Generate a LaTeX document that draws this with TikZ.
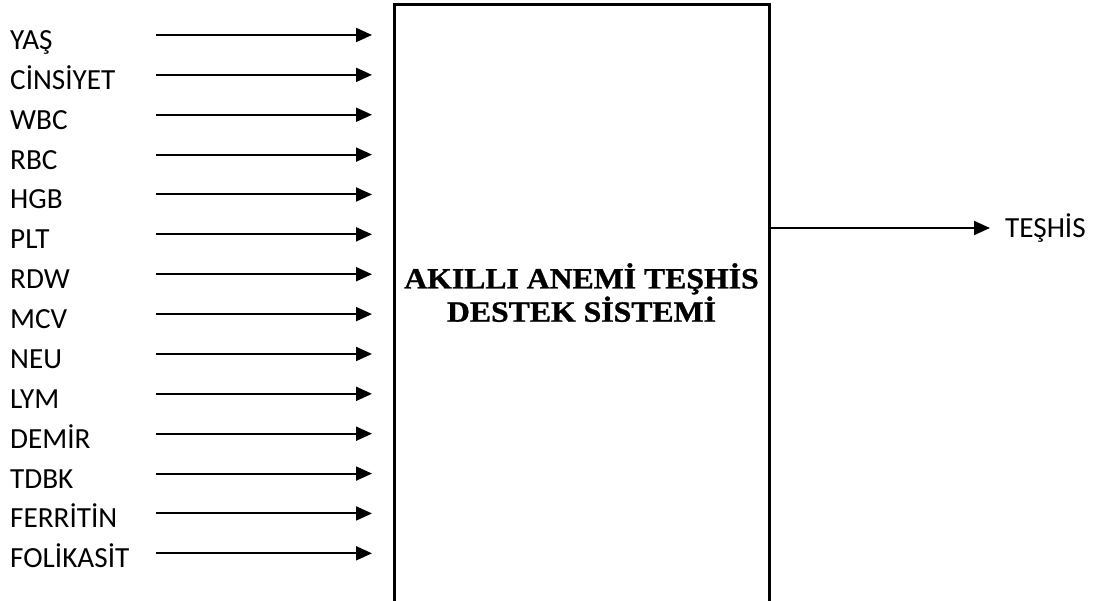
\documentclass[tikz,border=0pt]{standalone}
\usepackage{fontspec}
\setmainfont{Liberation Serif}
\newfontfamily\labelfont{Carlito}
\newfontfamily\titlefont[FakeStretch=1.08,FakeBold=1]{Liberation Serif}
\usetikzlibrary{arrows.meta}

\tikzset{
  inarrow/.style={line width=2bp, -{Triangle[length=16bp,width=14bp]}},
  inlabel/.style={anchor=west, inner sep=0pt, text height=19bp, text depth=0pt,
    font=\labelfont\fontsize{29.3}{34}\selectfont},
}

\begin{document}
\begin{tikzpicture}[x=1bp,y=-1bp]
\useasboundingbox (0,0) rectangle (1110,601);
\clip (0,0) rectangle (1110,601);

% System box (runs past the lower edge)
\node[draw, line width=3bp, minimum width=375bp, minimum height=640bp,
  inner sep=0pt, outer sep=0pt, anchor=north west] (sys) at (394,5) {};
\node[anchor=base, align=center, inner sep=0pt,
  font=\titlefont\bfseries\fontsize{29.5}{33.4}\selectfont] (title) at (581.5,321.7)
  {AKILLI ANEMİ TEŞHİS\\DESTEK SİSTEMİ};

% Inputs
\foreach \name [count=\i from 0] in {YAŞ, CİNSİYET, WBC, RBC, HGB, PLT, RDW,
    MCV, NEU, LYM, DEMİR, TDBK, FERRİTİN, FOLİKASİT} {
  \node[inlabel] (lbl\i) at (10,40+39.87*\i) {\name};
  \coordinate (in\i) at (156,35+39.87*\i);
  \draw[inarrow, shorten >=22bp] (in\i) -- (in\i -| sys.west);
}

% Output
\node[inlabel] (out) at (1005,228) {TEŞHİS};
\draw[inarrow, shorten >=15bp] (sys.east |- out.west) -- (out.west);
\end{tikzpicture}
\end{document}
